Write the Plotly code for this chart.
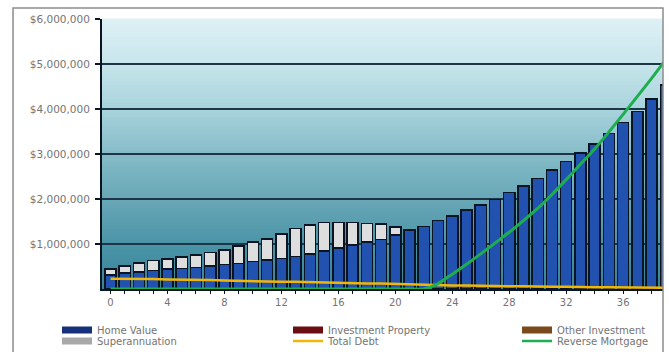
import plotly.graph_objects as go

# ---- data (values in dollars) ----
years = list(range(40))

home_value = [
    310000, 360000, 380000, 410000, 440000, 460000, 480000, 510000, 540000, 570000,
    610000, 640000, 680000, 720000, 780000, 850000, 910000, 980000, 1040000, 1100000,
    1200000, 1310000, 1390000, 1520000, 1620000, 1760000, 1870000, 1990000, 2140000, 2290000,
    2460000, 2640000, 2830000, 3020000, 3220000, 3460000, 3700000, 3940000, 4220000, 4530000,
]
superannuation = [
    130000, 150000, 200000, 220000, 230000, 250000, 280000, 300000, 330000, 390000,
    430000, 470000, 540000, 630000, 640000, 630000, 570000, 500000, 420000, 340000,
    180000, 0, 0, 0, 0, 0, 0, 0, 0, 0,
    0, 0, 0, 0, 0, 0, 0, 0, 0, 0,
]
investment_property = [
    0, 0, 0, 0, 0, 0, 0, 0, 0, 0,
    0, 0, 0, 0, 0, 0, 0, 0, 0, 0,
    0, 0, 0, 0, 0, 0, 0, 0, 0, 0,
    0, 0, 0, 0, 0, 0, 0, 0, 0, 0,
]
other_investment = [
    0, 0, 0, 0, 0, 0, 0, 0, 0, 0,
    0, 0, 0, 0, 0, 0, 0, 0, 0, 0,
    0, 0, 0, 0, 0, 0, 0, 0, 0, 0,
    0, 0, 0, 0, 0, 0, 0, 0, 0, 0,
]
total_debt = [
    230000, 230000, 220000, 220000, 210000, 210000, 200000, 200000, 190000, 180000,
    180000, 170000, 160000, 160000, 150000, 140000, 140000, 130000, 120000, 120000,
    110000, 100000, 90000, 90000, 80000, 80000, 70000, 70000, 60000, 60000,
    50000, 50000, 50000, 40000, 40000, 40000, 40000, 30000, 30000, 30000,
]
reverse_mortgage = [
    0, 0, 0, 0, 0, 0, 0, 0, 0, 0,
    0, 0, 0, 0, 0, 0, 0, 0, 0, 0,
    0, 0, 0, 120000, 330000, 550000, 780000, 1020000, 1260000, 1520000,
    1790000, 2100000, 2430000, 2770000, 3110000, 3490000, 3880000, 4280000, 4680000, 5100000,
]

y_tick_values = [1000000, 2000000, 3000000, 4000000, 5000000, 6000000]
y_tick_labels = ["$1,000,000", "$2,000,000", "$3,000,000", "$4,000,000", "$5,000,000", "$6,000,000"]
x_tick_values = [0, 4, 8, 12, 16, 20, 24, 28, 32, 36]

# ---- styling ----
FONT = "DejaVu Sans"
TEXT = "#747474"
OUTLINE = "#0b1422"
BLUE = "#2152b0"
SUPER = "#dedede"
RED = "#6a0e14"
BROWN = "#7a4a1a"
YELLOW = "#f2b705"
GREEN = "#1fae4f"

fig = go.Figure()

bar_series = [
    ("Home Value", home_value, BLUE),
    ("Investment Property", investment_property, RED),
    ("Other Investment", other_investment, BROWN),
    ("Superannuation", superannuation, SUPER),
]
for name, vals, col in bar_series:
    fig.add_trace(go.Bar(
        x=years, y=vals, name=name, legendgroup=name, showlegend=False,
        marker=dict(color=col, line=dict(color=OUTLINE, width=1.5 if any(vals) else 0)),
    ))

fig.add_trace(go.Scatter(
    x=years, y=total_debt, name="Total Debt", legendgroup="Total Debt", showlegend=False,
    mode="lines", line=dict(color=YELLOW, width=2.5),
))
fig.add_trace(go.Scatter(
    x=years, y=reverse_mortgage, name="Reverse Mortgage", legendgroup="Reverse Mortgage",
    showlegend=False, mode="lines", line=dict(color=GREEN, width=3, shape="spline", smoothing=0.6),
))

# legend entries: wide swatches, two rows of three columns
legend_rows = [
    ("legend", [("Home Value", "#16307a", 7, 186), ("Investment Property", RED, 7, 184),
                ("Other Investment", BROWN, 7, 100)]),
    ("legend2", [("Superannuation", "#a8a8a8", 7, 186), ("Total Debt", YELLOW, 2.5, 184),
                 ("Reverse Mortgage", GREEN, 2.5, 100)]),
]
for leg, entries in legend_rows:
    for name, col, w, lw in entries:
        fig.add_trace(go.Scatter(
            x=[None], y=[None], name=name, legendgroup=name, legend=leg,
            mode="lines", line=dict(color=col, width=w), legendwidth=lw,
            hoverinfo="skip",
        ))

# ---- plot-area gradient (light cyan at top to deep teal at bottom) ----
stops = [
    (0.00, (222, 241, 245)),
    (0.16, (200, 230, 236)),
    (0.33, (169, 212, 221)),
    (0.50, (134, 188, 200)),
    (0.67, (104, 167, 182)),
    (0.83, (76, 149, 168)),
    (1.00, (54, 132, 153)),
]


def shade(f):
    for (f0, c0), (f1, c1) in zip(stops[:-1], stops[1:]):
        if f0 <= f <= f1:
            t = (f - f0) / (f1 - f0)
            return "rgb(%d,%d,%d)" % tuple(round(a + (b - a) * t) for a, b in zip(c0, c1))
    return "rgb(%d,%d,%d)" % stops[-1][1]


shapes = []
n_bands = 90
for i in range(n_bands):
    top = 1 - i / n_bands
    bot = 1 - (i + 1) / n_bands
    shapes.append(dict(
        type="rect", xref="paper", yref="paper", x0=0, x1=1, y0=bot, y1=top + 0.002,
        fillcolor=shade((i + 0.5) / n_bands), line=dict(width=0), layer="below",
    ))

# outer frame around the whole chart
shapes.append(dict(
    type="rect", xref="paper", yref="paper", x0=-0.1586, x1=1.0, y0=-0.27, y1=1.0407,
    line=dict(color="#8c8c8c", width=1.5), fillcolor="rgba(0,0,0,0)", layer="above",
))

legend_common = dict(
    orientation="h", xanchor="left", yanchor="middle", x=-0.0802,
    font=dict(family=FONT, size=10, color=TEXT), bgcolor="rgba(0,0,0,0)",
    itemwidth=30, tracegroupgap=0,
)

fig.update_layout(
    width=669, height=352,
    margin=dict(l=102, r=6, t=19, b=63, autoexpand=False),
    paper_bgcolor="white", plot_bgcolor="rgb(140,190,200)",
    barmode="stack", bargap=0.22,
    shapes=shapes,
    showlegend=True,
    legend=dict(legend_common, y=(289 - 330) / 270),
    legend2=dict(legend_common, y=(289 - 341) / 270),
    xaxis=dict(
        range=[-0.6, 38.8], tickmode="array", tickvals=x_tick_values,
        ticks="outside", ticklen=3, tickcolor=OUTLINE, tickwidth=1,
        minor=dict(dtick=1, tick0=0, ticks="outside", ticklen=3, tickcolor=OUTLINE, showgrid=False),
        showgrid=False, zeroline=False, showline=True, linecolor=OUTLINE, linewidth=2,
        tickfont=dict(family=FONT, size=10, color=TEXT),
    ),
    yaxis=dict(
        range=[0, 6000000], tickmode="array", tickvals=y_tick_values, ticktext=y_tick_labels,
        ticks="outside", ticklen=5, tickcolor=OUTLINE, tickwidth=1.5,
        showgrid=True, gridcolor="#1d3545", gridwidth=2,
        zeroline=False, showline=True, linecolor=OUTLINE, linewidth=2,
        tickfont=dict(family=FONT, size=10.5, color=TEXT),
        ticklabelstandoff=3,
    ),
)

fig.write_html("out.html")
